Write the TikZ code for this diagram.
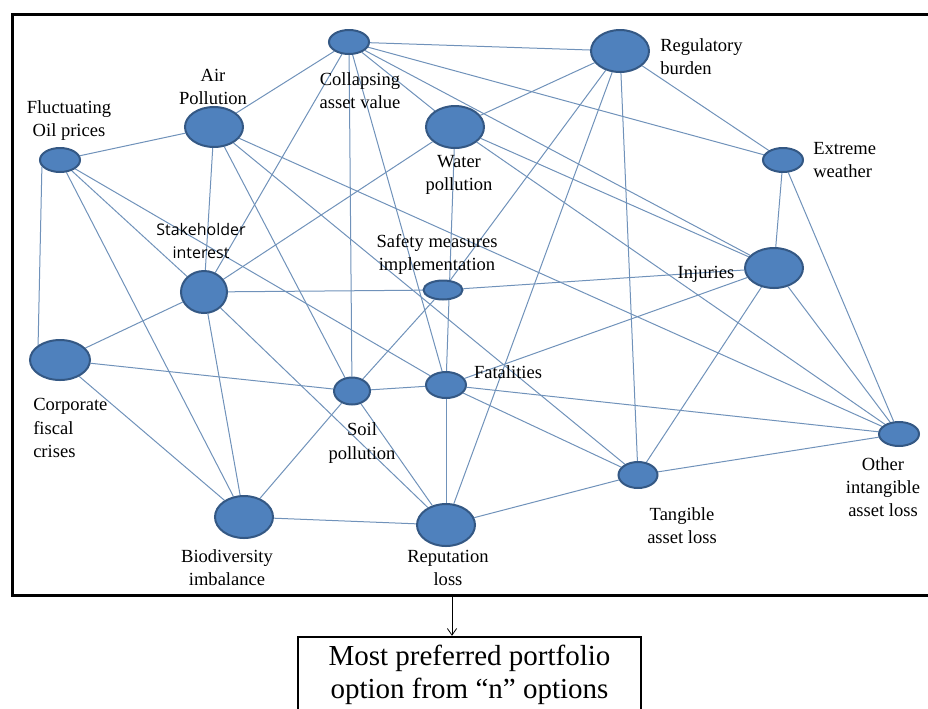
\documentclass[tikz,border=0pt]{standalone}
\usepackage{fontspec}
\setmainfont{Liberation Serif}
\newfontfamily\stakefont{Open Sans}
\usetikzlibrary{shapes.geometric,backgrounds,arrows.meta}

\definecolor{riskfill}{RGB}{79,129,189}
\definecolor{riskline}{RGB}{52,88,132}
\definecolor{linkcol}{RGB}{112,146,186}

\begin{document}
\begin{tikzpicture}[x=0.75pt, y=-0.75pt,
    risk/.style 2 args={ellipse, draw=riskline, line width=1.5pt, fill=riskfill,
                inner sep=0pt, minimum width=#1*0.75pt, minimum height=#2*0.75pt},
    lbl/.style={font=\fontsize{13.9}{17.3}\selectfont, align=center, inner sep=0pt},
    link/.style={draw=linkcol, line width=0.75pt}
]
\useasboundingbox (0,0) rectangle (928,708);

% outer frame and result box
\node[draw, line width=2.25pt, minimum width=918*0.75pt, minimum height=581*0.75pt,
      inner sep=0pt] (frame) at (471,304.5) {};
\node[draw, line width=1.8pt, minimum width=343*0.75pt, minimum height=76*0.75pt,
      align=center, inner sep=0pt, font=\fontsize{21.75}{24.5}\selectfont] (goal) at (469.5,675)
      {Most preferred portfolio\\option from ``n'' options};
\coordinate (drop) at (452,596);
\draw[-{Straight Barb[length=5pt,width=7pt]}, line width=0.6pt] (drop) -- (drop |- goal.north);

% risk nodes
\node[risk={40}{24}] (col)  at (349,42)  {};
\node[risk={58}{42}] (reg)  at (620,51)  {};
\node[risk={58}{40}] (air)  at (214,127) {};
\node[risk={58}{42}] (wat)  at (455,127) {};
\node[risk={40}{24}] (oil)  at (60,160)  {};
\node[risk={40}{24}] (ext)  at (783,160) {};
\node[risk={46}{42}] (stk)  at (204,292) {};
\node[risk={39}{19}] (saf)  at (443,290) {};
\node[risk={58}{40}] (inj)  at (774,268) {};
\node[risk={60}{40}] (cor)  at (60,360)  {};
\node[risk={36}{27}] (soil) at (352,391) {};
\node[risk={40}{26}] (fat)  at (446,385) {};
\node[risk={40}{24}] (oth)  at (899,434) {};
\node[risk={39}{26}] (tan)  at (638,475) {};
\node[risk={58}{42}] (bio)  at (244,517) {};
\node[risk={58}{42}] (rep)  at (446,525) {};

% labels
\node[lbl] (colT) at (360,91) {Collapsing\\asset value};
\node[lbl, anchor=west, align=left] (regT) at (660,57) {Regulatory\\burden};
\node[lbl] (airT) at (213,87) {Air\\Pollution};
\node[lbl] (oilT) at (69,121) {Fluctuating\\Oil prices};
\node[lbl] (watT) at (459,175) {Water\\pollution};
\node[lbl, anchor=west, align=left] (extT) at (813,160) {Extreme\\weather};
\node[lbl, font=\stakefont\fontsize{12}{17.3}\selectfont] (stkT) at (201,241) {Stakeholder\\interest};
\node[lbl] (safT) at (437,254) {Safety measures\\implementation};
\node[lbl, anchor=base] (injT) at (706,278) {Injuries};
\node[lbl, anchor=base] (fatT) at (508,378) {Fatalities};
\node[lbl, anchor=west, align=left] (corT) at (33,428) {Corporate\\fiscal\\crises};
\node[lbl] (soilT) at (362,443) {Soil\\pollution};
\node[lbl] (othT) at (883,487) {Other\\intangible\\asset loss};
\node[lbl] (tanT) at (682,526) {Tangible\\asset loss};
\node[lbl] (bioT) at (227,568) {Biodiversity\\imbalance};
\node[lbl] (repT) at (448,568) {Reputation\\loss};

% links between risks
\begin{scope}[on background layer]
\draw[link] (oil) -- (air);  \draw[link] (oil.200) -- (cor.north west);
\draw[link] (oil) -- (stk);  \draw[link] (oil) -- (bio);  \draw[link] (oil) -- (fat);
\draw[link] (col) -- (air);  \draw[link] (col) -- (reg);  \draw[link] (col) -- (stk);
\draw[link] (col) -- (soil); \draw[link] (col) -- (fat);  \draw[link] (col) -- (ext);
\draw[link] (col) -- (inj);  \draw[link] (col) -- (wat);
\draw[link] (air) -- (stk);  \draw[link] (air) -- (soil); \draw[link] (air) -- (oth);
\draw[link] (air) -- (tan);
\draw[link] (wat) -- (stk);  \draw[link] (wat) -- (reg);  \draw[link] (wat) -- (fat);
\draw[link] (wat) -- (inj);  \draw[link] (wat) -- (oth);
\draw[link] (reg) -- (saf);  \draw[link] (reg) -- (rep);  \draw[link] (reg) -- (tan);
\draw[link] (reg) -- (ext);
\draw[link] (ext) -- (inj);  \draw[link] (ext) -- (oth);
\draw[link] (stk) -- (cor);  \draw[link] (stk) -- (saf);  \draw[link] (stk) -- (bio);
\draw[link] (stk) -- (rep);
\draw[link] (saf) -- (soil); \draw[link] (saf) -- (inj);
\draw[link] (inj) -- (fat);  \draw[link] (inj) -- (tan);  \draw[link] (inj) -- (oth);
\draw[link] (cor) -- (soil); \draw[link] (cor) -- (bio);
\draw[link] (soil) -- (fat); \draw[link] (soil) -- (rep); \draw[link] (soil) -- (bio);
\draw[link] (fat) -- (rep);  \draw[link] (fat) -- (tan);  \draw[link] (fat) -- (oth);
\draw[link] (tan) -- (rep);  \draw[link] (tan) -- (oth);
\draw[link] (bio) -- (rep);
\end{scope}
\end{tikzpicture}
\end{document}
